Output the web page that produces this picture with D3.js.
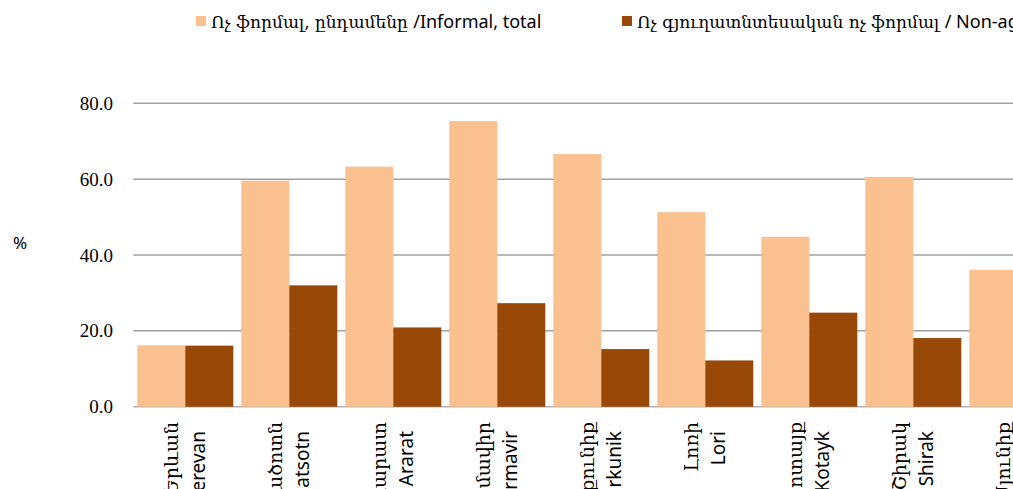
<!DOCTYPE html>
<html>
<head>
<meta charset="utf-8">
<script src="https://cdn.jsdelivr.net/npm/d3@7"></script>
<style>
  html, body { margin: 0; padding: 0; background: #fff; overflow: hidden; width: 1013px; height: 489px; }
  svg { display: block; }
</style>
</head>
<body>
<script>
const categoriesHy = ["Երևան", "Արագածոտն", "Արարատ", "Արմավիր", "Գեղարքունիք", "Լոռի", "Կոտայք", "Շիրակ", "Սյունիք"];
const categoriesEn = ["Yerevan", "Aragatsotn", "Ararat", "Armavir", "Gegharkunik", "Lori", "Kotayk", "Shirak", "Syunik"];
const informalTotal = [16.2, 59.6, 63.3, 75.3, 66.6, 51.3, 44.8, 60.6, 36.1];
const nonAgriInformal = [16.1, 32.0, 20.9, 27.3, 15.2, 12.2, 24.8, 18.1, 14.0];
const yTicks = [0, 20, 40, 60, 80];
const seriesNames = [
  { hy: "Ոչ ֆորմալ, ընդամենը ", en: "/Informal, total" },
  { hy: "Ոչ գյուղատնտեսական ոչ  ֆորմալ ", en: " / Non-agricultural informal" }
];
const colors = ["#FAC090", "#984807"];

const W = 1300, H = 489;
const svg = d3.select("body").append("svg").attr("width", W).attr("height", H);

const x0 = 133.3, step = 104;
const x = d3.scaleBand()
  .domain(categoriesEn)
  .range([x0, x0 + step * categoriesEn.length])
  .paddingInner(8 / 104)
  .paddingOuter(4 / 104);
const xs = d3.scaleBand().domain([0, 1]).range([0, x.bandwidth()]);
const y = d3.scaleLinear().domain([0, 80]).range([406.7, 103.3]);

// gridlines
svg.append("g").selectAll("line").data(yTicks).join("line")
  .attr("x1", x0).attr("x2", W)
  .attr("y1", d => y(d)).attr("y2", d => y(d))
  .attr("stroke", d => d === 0 ? "#b0b0b0" : "#a0a0a0")
  .attr("stroke-width", 1.5);

// y tick labels
svg.append("g").selectAll("text").data(yTicks).join("text")
  .attr("x", 113).attr("y", d => y(d) + 6.5)
  .attr("text-anchor", "end")
  .attr("font-family", "'Liberation Serif', serif")
  .attr("font-size", 19)
  .attr("fill", "#000")
  .text(d => d.toFixed(1));

svg.append("text").attr("x", 20).attr("y", 249)
  .attr("text-anchor", "middle")
  .attr("font-family", "'Noto Sans', sans-serif")
  .attr("font-size", 17)
  .text("%");

// bars
const groups = svg.append("g").selectAll("g").data(categoriesEn).join("g")
  .attr("transform", d => `translate(${x(d)},0)`);
groups.selectAll("rect").data((d, i) => [informalTotal[i], nonAgriInformal[i]]).join("rect")
  .attr("x", (d, j) => xs(j))
  .attr("width", xs.bandwidth())
  .attr("y", d => y(d))
  .attr("height", d => y(0) - y(d))
  .attr("fill", (d, j) => colors[j]);

// x labels (rotated, reading upward, end of text near the axis)
const lab = svg.append("g").selectAll("g").data(categoriesEn).join("g")
  .attr("transform", d => `translate(${x(d) + x.bandwidth() / 2},0) rotate(-90)`);
lab.append("text")
  .attr("x", -422).attr("y", -7)
  .attr("text-anchor", "end")
  .attr("font-family", "'DejaVu Serif', serif")
  .attr("font-size", 19)
  .text((d, i) => categoriesHy[i]);
lab.append("text")
  .attr("x", -431).attr("y", 19.5)
  .attr("text-anchor", "end")
  .attr("font-family", "'Noto Sans', sans-serif")
  .attr("font-size", 19)
  .text(d => d);

// legend
const legX = [196, 622];
seriesNames.forEach((s, i) => {
  svg.append("rect").attr("x", legX[i]).attr("y", 16).attr("width", 10).attr("height", 10).attr("fill", colors[i]);
  const t = svg.append("text").attr("x", legX[i] + 15).attr("y", 28).attr("font-size", 18);
  t.append("tspan").attr("font-family", "'DejaVu Serif', serif").attr("font-size", 17).text(s.hy);
  t.append("tspan").attr("font-family", "'Noto Sans', sans-serif").text(s.en);
});
</script>
</body>
</html>
